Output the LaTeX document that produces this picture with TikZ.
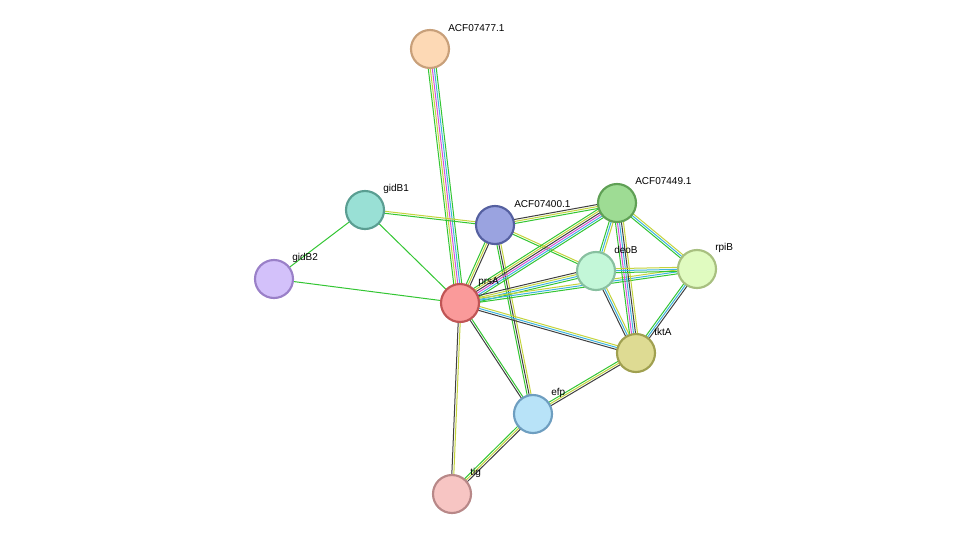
\documentclass[tikz,border=0pt]{standalone}
\usepackage{fontspec}
\setmainfont{Liberation Sans}
\usetikzlibrary{calc}
\definecolor{gn}{HTML}{33C633}
\definecolor{yl}{HTML}{C4D43C}
\definecolor{bk}{HTML}{404040}
\definecolor{cy}{HTML}{3CB4E0}
\definecolor{mg}{HTML}{D650D6}
\newcommand\edg[4]{\foreach \c [count=\i] in {#4}{\pgfmathsetmacro\o{(\i-(#3+1)/2)*1.5}\draw[\c, line width=0.75pt] ($(#1)!\o pt!90:(#2)$) -- ($(#2)!\o pt!-90:(#1)$);}}
\begin{document}
\begin{tikzpicture}[x=0.75pt,y=-0.75pt,
 prot/.style={circle,minimum size=28.5pt,inner sep=0pt,line width=1.6pt},
 lab/.style={anchor=west,font=\fontsize{7.5pt}{8pt}\selectfont,inner sep=0pt}]
\useasboundingbox (0,0) rectangle (975,540);
\fill[white] (0,0) rectangle (975,540);
\coordinate (c477) at (430,49);
\coordinate (cgidB1) at (365,210);
\coordinate (c400) at (495,225);
\coordinate (c449) at (617,203);
\coordinate (cgidB2) at (274,279);
\coordinate (cdeoB) at (596,271);
\coordinate (crpiB) at (697,269);
\coordinate (cprsA) at (460,303);
\coordinate (ctktA) at (636,353);
\coordinate (cefp) at (533,414);
\coordinate (ctig) at (452,494);
\edg{c477}{cprsA}{5}{gn,yl,mg,cy,gn}
\edg{cgidB1}{cprsA}{1}{gn}
\edg{cgidB1}{cgidB2}{1}{gn}
\edg{cgidB2}{cprsA}{1}{gn}
\edg{cgidB1}{c400}{2}{gn,yl}
\edg{c400}{cdeoB}{2}{gn,yl}
\edg{c400}{cprsA}{3}{gn,yl,bk}
\edg{c400}{c449}{3}{gn,yl,bk}
\edg{c400}{cefp}{3}{gn,bk,yl}
\edg{cprsA}{c449}{6}{gn,cy,mg,bk,yl,gn}
\edg{cprsA}{cdeoB}{4}{gn,cy,yl,bk}
\edg{cprsA}{crpiB}{3}{gn,cy,yl}
\edg{cprsA}{ctktA}{3}{bk,cy,yl}
\edg{cprsA}{cefp}{2}{bk,gn}
\edg{cprsA}{ctig}{2}{bk,yl}
\edg{c449}{cdeoB}{3}{gn,cy,yl}
\edg{c449}{crpiB}{3}{gn,cy,yl}
\edg{c449}{ctktA}{5}{gn,mg,cy,bk,yl}
\edg{cdeoB}{crpiB}{3}{gn,cy,yl}
\edg{cdeoB}{ctktA}{3}{bk,cy,yl}
\edg{crpiB}{ctktA}{3}{gn,cy,bk}
\edg{ctktA}{cefp}{3}{gn,yl,bk}
\edg{cefp}{ctig}{3}{gn,yl,bk}
\node[prot,fill={rgb,255:red,253;green,217;blue,181},draw={rgb,255:red,200;green,160;blue,122}] (n477) at (c477) {};
\node[prot,fill={rgb,255:red,153;green,224;blue,213},draw={rgb,255:red,90;green,158;blue,146}] (ngidB1) at (cgidB1) {};
\node[prot,fill={rgb,255:red,154;green,163;blue,224},draw={rgb,255:red,85;green,96;blue,160}] (n400) at (c400) {};
\node[prot,fill={rgb,255:red,158;green,220;blue,148},draw={rgb,255:red,95;green,160;blue,85}] (n449) at (c449) {};
\node[prot,fill={rgb,255:red,211;green,193;blue,250},draw={rgb,255:red,154;green,128;blue,200}] (ngidB2) at (cgidB2) {};
\node[prot,fill={rgb,255:red,195;green,247;blue,216},draw={rgb,255:red,136;green,192;blue,160}] (ndeoB) at (cdeoB) {};
\node[prot,fill={rgb,255:red,224;green,251;blue,192},draw={rgb,255:red,168;green,192;blue,128}] (nrpiB) at (crpiB) {};
\node[prot,fill={rgb,255:red,250;green,154;blue,154},draw={rgb,255:red,192;green,85;blue,85}] (nprsA) at (cprsA) {};
\node[prot,fill={rgb,255:red,222;green,219;blue,147},draw={rgb,255:red,160;green,160;blue,80}] (ntktA) at (ctktA) {};
\node[prot,fill={rgb,255:red,184;green,227;blue,248},draw={rgb,255:red,110;green,158;blue,192}] (nefp) at (cefp) {};
\node[prot,fill={rgb,255:red,247;green,197;blue,195},draw={rgb,255:red,184;green,136;blue,136}] (ntig) at (ctig) {};
\node[lab] (l477) at ($(c477)+(18,-21)$) {ACF07477.1};
\node[lab] (lgidB1) at ($(cgidB1)+(18,-21)$) {gidB1};
\node[lab] (l400) at ($(c400)+(19,-21)$) {ACF07400.1};
\node[lab] (l449) at ($(c449)+(18,-22)$) {ACF07449.1};
\node[lab] (lgidB2) at ($(cgidB2)+(18,-21)$) {gidB2};
\node[lab] (ldeoB) at ($(cdeoB)+(18,-21)$) {deoB};
\node[lab] (lrpiB) at ($(crpiB)+(18,-21)$) {rpiB};
\node[lab] (lprsA) at ($(cprsA)+(18,-21)$) {prsA};
\node[lab] (ltktA) at ($(ctktA)+(18,-21)$) {tktA};
\node[lab] (lefp) at ($(cefp)+(18,-21)$) {efp};
\node[lab] (ltig) at ($(ctig)+(18,-21)$) {tig};
\end{tikzpicture}
\end{document}
